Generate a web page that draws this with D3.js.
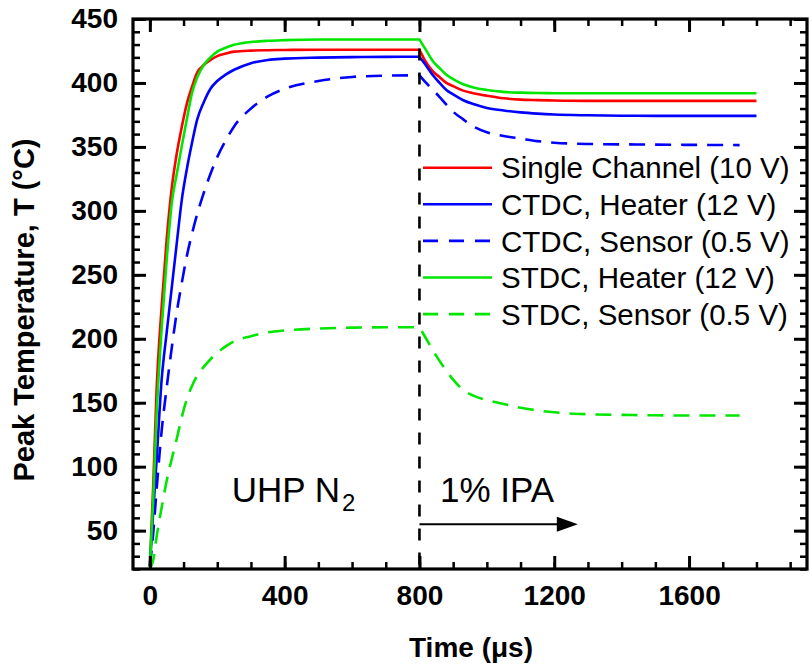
<!DOCTYPE html>
<html><head><meta charset="utf-8">
<script src="https://cdn.jsdelivr.net/npm/d3@7/dist/d3.min.js"></script>
<style>
body{margin:0;background:#fff}
svg{display:block}
text{font-family:"Liberation Sans", Arial, sans-serif;fill:#000}
</style>
</head><body>
<svg id="chart" width="812" height="670"></svg>
<script>
// ---------- data (time in microseconds, temperature in °C) ----------
const riseTimes  = [0, 10, 20, 35, 50, 65, 80, 95, 110, 125, 140, 160, 180, 200, 225, 250, 300, 350, 400, 500, 600, 700, 800];
const decayTimes = [800, 820, 840, 860, 880, 900, 930, 960, 1000, 1050, 1100, 1150, 1200, 1300, 1400, 1500, 1600, 1700, 1750, 1800];

const singleRise  = [22, 85, 160, 225, 278, 318, 345, 366, 384, 397, 408, 414, 418, 421, 423, 424.5, 425.3, 425.6, 425.8, 426, 426, 426, 426];
const singleDecay = [426, 416, 409, 404.5, 400, 397.5, 394, 392, 390, 388, 387, 386.6, 386.3, 386, 386, 386, 386, 386, 386, 386];

const ctdcHeaterRise  = [22, 65, 105, 168, 205, 240, 275, 309, 333, 353, 371, 385, 395.5, 401.5, 406.5, 410.3, 415.5, 418, 419, 419.8, 420.2, 420.4, 420.5];
const ctdcHeaterDecay = [420.5, 413.5, 406, 400, 394.5, 391, 386.5, 383.5, 380.5, 378.5, 377, 376, 375.3, 374.7, 374.4, 374.3, 374.3, 374.3, 374.3, 374.3];

const ctdcSensorRise  = [22, 48, 82, 128, 162, 193, 221, 244, 265, 282, 297, 314, 329, 342, 355, 366, 380, 389.5, 395.5, 401.5, 404.7, 405.7, 406];
const ctdcSensorDecay = [406, 400, 394.5, 389, 383, 377.5, 371.5, 366, 361.5, 358.5, 356.5, 354.5, 353.3, 352.3, 352, 351.8, 351.6, 351.5, 351.4, null];

const stdcHeaterRise  = [22, 75, 140, 208, 262, 306, 329, 351, 372, 392, 404, 414, 420, 424.5, 427.5, 429.8, 432, 433, 433.5, 434, 434, 434, 434];
const stdcHeaterDecay = [434, 425.5, 417, 411.5, 406.5, 403, 399, 396.5, 394.5, 393, 392.4, 392.1, 392, 392, 392, 392, 392, 392, 392, 392];

const stdcSensorRise  = [20, 27, 45, 68, 89, 106, 122, 139, 153, 163, 171, 178, 184, 189, 194, 198, 202, 205, 206.5, 208, 208.7, 209, 209];
const stdcSensorDecay = [209, 200, 191, 182.5, 175, 168, 160, 155.5, 152, 149, 146, 144, 142.5, 141, 140.5, 140.2, 140, 140, 140, null];

const seriesNames = ["Single Channel (10 V)", "CTDC, Heater (12 V)", "CTDC, Sensor (0.5 V)", "STDC, Heater (12 V)", "STDC, Sensor (0.5 V)"];
const xTickLabels = [0, 400, 800, 1200, 1600];
const yTickLabels = [50, 100, 150, 200, 250, 300, 350, 400, 450];

const switchTime = 800;          // gas switched from UHP N2 to 1% IPA
const switchLineRange = [20, 427];
const arrowRange = [800, 1270];
const arrowLevel = 55;
const labelLevel = 72;
const n2LabelTime = 243;
const ipaLabelTime = 861;

// ---------- layout ----------
const L = 133, T = 19, R = 807, B = 569;
const svg = d3.select("#chart");

const x = d3.scaleLinear().domain([-50, 1950]).range([L, R]);
const y = d3.scaleLinear().domain([20, 450]).range([B, T]);

const colors = ["#ff0000", "#0000ff", "#0000ff", "#00e600", "#00e600"];
const dashed = [false, false, true, false, true];
const riseData = [singleRise, ctdcHeaterRise, ctdcSensorRise, stdcHeaterRise, stdcSensorRise];
const decayData = [singleDecay, ctdcHeaterDecay, ctdcSensorDecay, stdcHeaterDecay, stdcSensorDecay];

const series = seriesNames.map((name, i) => ({
  name, color: colors[i], dashed: dashed[i],
  rise: riseTimes.map((t, j) => ({t, v: riseData[i][j]})),
  decay: decayTimes.map((t, j) => ({t, v: decayData[i][j]})).filter(d => d.v !== null)
}));

const line = d3.line().x(d => x(d.t)).y(d => y(d.v)).curve(d3.curveMonotoneX);
const DASH = "16,10";

// curves
const gCurves = svg.append("g");
series.forEach(s => {
  const d = line(s.rise) + line(s.decay).replace(/^M/, "L");
  gCurves.append("path")
    .attr("d", d)
    .attr("fill", "none")
    .attr("stroke", s.color)
    .attr("stroke-width", 2.6)
    .attr("stroke-dasharray", s.dashed ? DASH : null);
});

// vertical dashed switch line
svg.append("line")
  .attr("x1", x(switchTime)).attr("x2", x(switchTime))
  .attr("y1", y(switchLineRange[1])).attr("y2", y(switchLineRange[0]))
  .attr("stroke", "#000").attr("stroke-width", 2.6)
  .attr("stroke-dasharray", "12,12");

// arrow
const ay = y(arrowLevel);
const tipX = x(arrowRange[1]);
svg.append("line")
  .attr("x1", x(arrowRange[0])).attr("x2", tipX - 10)
  .attr("y1", ay).attr("y2", ay)
  .attr("stroke", "#000").attr("stroke-width", 2.2);
svg.append("path")
  .attr("d", `M${tipX},${ay} L${tipX - 21},${ay - 7.5} L${tipX - 21},${ay + 7.5} Z`)
  .attr("fill", "#000");

// annotations
const n2 = svg.append("text")
  .attr("x", x(n2LabelTime)).attr("y", y(labelLevel))
  .attr("font-size", 35);
n2.append("tspan").text("UHP N");
n2.append("tspan").attr("font-size", 24).attr("dy", 9).attr("dx", 2).text("2");

svg.append("text")
  .attr("x", x(ipaLabelTime)).attr("y", y(labelLevel))
  .attr("font-size", 35).text("1% IPA");

// legend
const legY0 = 167.7, legDY = 36.6;
series.forEach((s, i) => {
  const ly = legY0 + i * legDY;
  svg.append("line")
    .attr("x1", 423).attr("x2", 492).attr("y1", ly).attr("y2", ly)
    .attr("stroke", s.color).attr("stroke-width", 2.6)
    .attr("stroke-dasharray", s.dashed ? "15,11" : null);
  svg.append("text")
    .attr("x", 501).attr("y", ly + 10.6)
    .attr("font-size", 29.5).text(s.name);
});

// axes with inward ticks
const xMinor = d3.range(0, 1901, 100);
const yMinor = d3.range(20, 451, 10);
const fmt = d3.format("d");

function styleAxis(g, w) {
  g.select(".domain").remove();
  g.selectAll(".tick line").attr("stroke", "#000").attr("stroke-width", w);
}
const tickFont = g => g.selectAll("text")
  .attr("font-size", 28).attr("font-weight", "bold")
  .attr("font-family", '"Liberation Sans", Arial, sans-serif').attr("fill", "#000");

// bottom
svg.append("g").attr("transform", `translate(0,${B})`)
  .call(d3.axisBottom(x).tickValues(xMinor).tickSize(-7).tickFormat(""))
  .call(g => styleAxis(g, 2.5));
svg.append("g").attr("transform", `translate(0,${B})`)
  .call(d3.axisBottom(x).tickValues(xTickLabels).tickSize(-13).tickPadding(16).tickFormat(fmt))
  .call(g => styleAxis(g, 3)).call(tickFont);
// top
svg.append("g").attr("transform", `translate(0,${T})`)
  .call(d3.axisTop(x).tickValues(xMinor).tickSize(-7).tickFormat(""))
  .call(g => styleAxis(g, 2.5));
svg.append("g").attr("transform", `translate(0,${T})`)
  .call(d3.axisTop(x).tickValues(xTickLabels).tickSize(-13).tickFormat(""))
  .call(g => styleAxis(g, 3));
// left
svg.append("g").attr("transform", `translate(${L},0)`)
  .call(d3.axisLeft(y).tickValues(yMinor).tickSize(-7).tickFormat(""))
  .call(g => styleAxis(g, 2.5));
svg.append("g").attr("transform", `translate(${L},0)`)
  .call(d3.axisLeft(y).tickValues(yTickLabels).tickSize(-13).tickPadding(15).tickFormat(fmt))
  .call(g => styleAxis(g, 3)).call(tickFont);
// right
svg.append("g").attr("transform", `translate(${R},0)`)
  .call(d3.axisRight(y).tickValues(yMinor).tickSize(-7).tickFormat(""))
  .call(g => styleAxis(g, 2.5));
svg.append("g").attr("transform", `translate(${R},0)`)
  .call(d3.axisRight(y).tickValues(yTickLabels).tickSize(-13).tickFormat(""))
  .call(g => styleAxis(g, 3));

// frame
svg.append("rect")
  .attr("x", L).attr("y", T).attr("width", R - L).attr("height", B - T)
  .attr("fill", "none").attr("stroke", "#000").attr("stroke-width", 3.2);

// axis titles
svg.append("text")
  .attr("x", 471).attr("y", 657)
  .attr("text-anchor", "middle").attr("font-size", 28).attr("font-weight", "bold")
  .text("Time (\u03bcs)");
svg.append("text")
  .attr("transform", "translate(33.5,310) rotate(-90)")
  .attr("text-anchor", "middle").attr("font-size", 29).attr("font-weight", "bold")
  .text("Peak Temperature, T (\u00b0C)");
</script>
</body></html>
